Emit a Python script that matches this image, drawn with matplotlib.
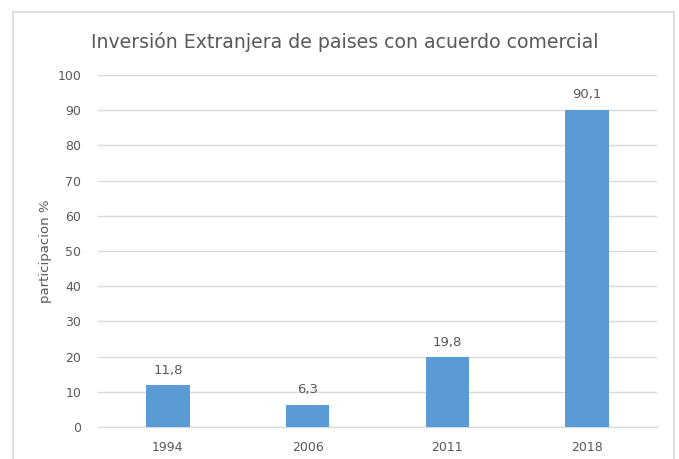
import matplotlib.pyplot as plt
from matplotlib.patches import Rectangle

anios = ['1994', '2006', '2011', '2018']
participacion = [11.8, 6.3, 19.8, 90.1]
etiquetas = ['11,8', '6,3', '19,8', '90,1']

gris = '#595959'
linea = '#D9D9D9'

fig = plt.figure(figsize=(6.79, 4.59), dpi=100)
W, H = 679, 459

# marco del grafico estilo Excel
fig.patches.append(Rectangle((13 / W, -0.05), (674 - 13) / W, 1.05 - 12 / H,
                             transform=fig.transFigure, fill=False,
                             edgecolor=linea, linewidth=1.2))

ax = fig.add_axes([98 / W, (H - 427) / H, (657 - 98) / W, (427 - 75) / H])

x = range(len(anios))
ax.bar(x, participacion, width=0.31, color='#5B9BD5', zorder=3)

for i, v in enumerate(participacion):
    ax.text(i, v + 2.5, etiquetas[i], ha='center', va='bottom', fontsize=9.5, color=gris)

ax.set_xlim(-0.5, 3.5)
ax.set_ylim(0, 100)
ax.set_yticks(range(0, 101, 10))
ax.set_xticks(list(x))
ax.set_xticklabels(anios)
ax.tick_params(axis='both', length=0, labelsize=9, colors=gris)
ax.tick_params(axis='x', pad=10)
ax.tick_params(axis='y', pad=12)
ax.grid(axis='y', color=linea, linewidth=1, zorder=0)

for s in ['top', 'right', 'left']:
    ax.spines[s].set_visible(False)
ax.spines['bottom'].set_color(linea)

ax.set_ylabel('participacion %', fontsize=9.5, color=gris, labelpad=4)
fig.text(345 / W, (H - 42) / H,
         'Inversión Extranjera de paises con acuerdo comercial',
         ha='center', va='center', fontsize=13.6, color=gris)

plt.savefig('out.png', dpi=100)
